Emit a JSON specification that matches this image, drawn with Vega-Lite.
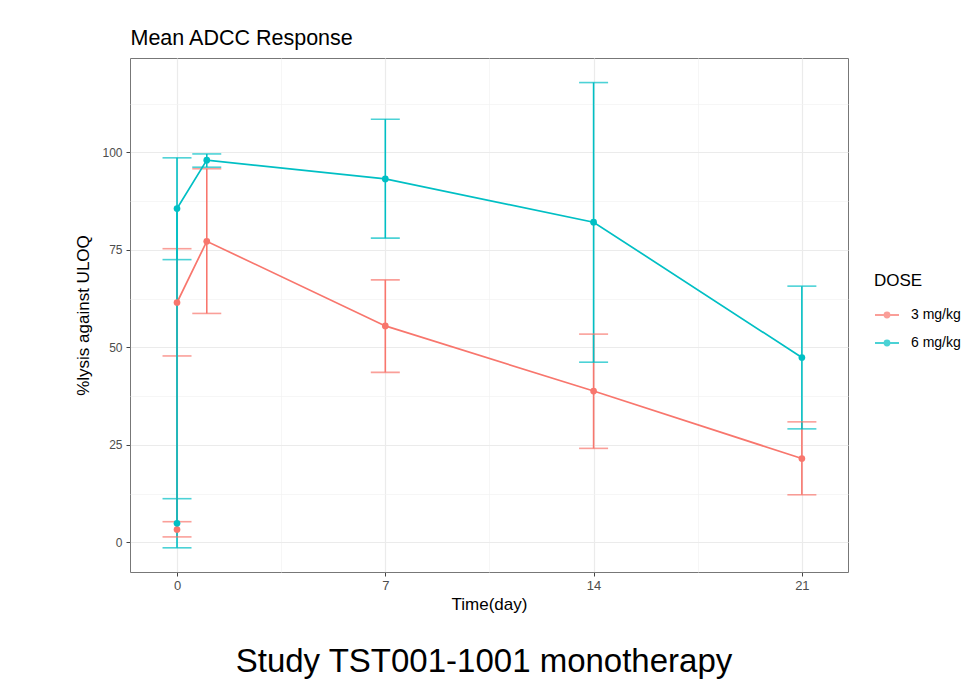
{
  "$schema": "https://vega.github.io/schema/vega-lite/v6.json",
  "autosize": {"type": "none"},
  "width": 718,
  "height": 514,
  "padding": {"left": 130, "top": 58, "right": 120, "bottom": 110},
  "background": "white",
  "config": {
    "font": "Liberation Sans",
    "view": {"stroke": "#777777", "strokeWidth": 1}
  },
  "title": {
    "text": "Study TST001-1001 monotherapy",
    "orient": "bottom",
    "anchor": "middle",
    "font": "Liberation Sans",
    "fontSize": 33,
    "fontWeight": "normal",
    "color": "#000000",
    "offset": 34,
    "dx": -5
  },
  "datasets": {
    "adcc": [
      {"dose": "3 mg/kg", "time": 0, "seq": 0, "mean": 3.3, "lo": 1.4, "hi": 5.3},
      {"dose": "3 mg/kg", "time": 0, "seq": 1, "mean": 61.5, "lo": 47.8, "hi": 75.3},
      {"dose": "3 mg/kg", "time": 1, "seq": 2, "mean": 77.2, "lo": 58.7, "hi": 95.8},
      {"dose": "3 mg/kg", "time": 7, "seq": 3, "mean": 55.5, "lo": 43.6, "hi": 67.3},
      {"dose": "3 mg/kg", "time": 14, "seq": 4, "mean": 38.8, "lo": 24.1, "hi": 53.4},
      {"dose": "3 mg/kg", "time": 21, "seq": 5, "mean": 21.5, "lo": 12.2, "hi": 30.9},
      {"dose": "6 mg/kg", "time": 0, "seq": 0, "mean": 4.9, "lo": -1.4, "hi": 11.2},
      {"dose": "6 mg/kg", "time": 0, "seq": 1, "mean": 85.6, "lo": 72.5, "hi": 98.6},
      {"dose": "6 mg/kg", "time": 1, "seq": 2, "mean": 98.0, "lo": 96.2, "hi": 99.6},
      {"dose": "6 mg/kg", "time": 7, "seq": 3, "mean": 93.2, "lo": 78.0, "hi": 108.5},
      {"dose": "6 mg/kg", "time": 14, "seq": 4, "mean": 82.1, "lo": 46.2, "hi": 117.9},
      {"dose": "6 mg/kg", "time": 21, "seq": 5, "mean": 47.4, "lo": 29.1, "hi": 65.7}
    ]
  },
  "data": {"name": "adcc"},
  "resolve": {"axis": {"x": "independent"}},
  "layer": [
    {
      "encoding": {
        "x": {
          "field": "time",
          "type": "quantitative",
          "scale": {"domain": [-1.58, 22.55], "nice": false, "zero": false},
          "axis": {
            "title": "Time(day)",
            "values": [0, 3.5, 7, 10.5, 14, 17.5, 21],
            "labelExpr": "datum.value % 7 === 0 ? datum.label : ''",
            "grid": true,
            "gridColor": {"condition": {"test": "datum.value % 7 === 0", "value": "#ebebeb"}, "value": "#f2f2f2"},
            "gridWidth": {"condition": {"test": "datum.value % 7 === 0", "value": 1.2}, "value": 0.7},
            "tickOpacity": {"condition": {"test": "datum.value % 7 === 0", "value": 1}, "value": 0},
            "tickColor": "#444444",
            "tickSize": 4,
            "domain": false,
            "labelFontSize": 13,
            "labelColor": "#4d4d4d",
            "labelPadding": 3,
            "titleFontSize": 17,
            "titleFontWeight": "normal",
            "titleColor": "#000000",
            "titlePadding": 4
          }
        },
        "y": {
          "type": "quantitative",
          "scale": {"domain": [-7.6, 124.2], "nice": false, "zero": false},
          "axis": {
            "title": "%lysis against ULOQ",
            "values": [0, 12.5, 25, 37.5, 50, 62.5, 75, 87.5, 100, 112.5],
            "labelExpr": "datum.value % 25 === 0 ? datum.label : ''",
            "grid": true,
            "gridColor": {"condition": {"test": "datum.value % 25 === 0", "value": "#ebebeb"}, "value": "#f2f2f2"},
            "gridWidth": {"condition": {"test": "datum.value % 25 === 0", "value": 1.2}, "value": 0.7},
            "tickOpacity": {"condition": {"test": "datum.value % 25 === 0", "value": 1}, "value": 0},
            "tickColor": "#444444",
            "tickSize": 4,
            "domain": false,
            "labelFontSize": 12,
            "labelColor": "#4d4d4d",
            "labelPadding": 4,
            "titleFontSize": 17,
            "titleFontWeight": "normal",
            "titleColor": "#000000",
            "titlePadding": 9
          }
        },
        "color": {
          "field": "dose",
          "type": "nominal",
          "scale": {"domain": ["3 mg/kg", "6 mg/kg"], "range": ["#F8766D", "#00BFC4"]},
          "legend": {
            "title": "DOSE",
            "orient": "none",
            "legendX": 744,
            "legendY": 215,
            "titleFontSize": 17,
            "titleFontWeight": "normal",
            "titleColor": "#000000",
            "titlePadding": 12,
            "labelFontSize": 14,
            "labelColor": "#000000",
            "labelOffset": 11,
            "symbolType": "M-1,0L1,0M-0.2,0A0.2,0.2 0 1,1 0.2,0A0.2,0.2 0 1,1 -0.2,0M-0.1,0A0.1,0.1 0 1,1 0.1,0A0.1,0.1 0 1,1 -0.1,0",
            "symbolStrokeWidth": 2,
            "symbolSize": 576,
            "rowPadding": 8
          }
        }
      },
      "layer": [
        {
          "mark": {"type": "rule", "strokeWidth": 1.6},
          "encoding": {
            "y": {"field": "lo", "type": "quantitative"},
            "y2": {"field": "hi"}
          }
        },
        {
          "mark": {"type": "tick", "orient": "horizontal", "size": 29, "thickness": 1.6},
          "encoding": {
            "y": {"field": "lo", "type": "quantitative"}
          }
        },
        {
          "mark": {"type": "tick", "orient": "horizontal", "size": 29, "thickness": 1.6},
          "encoding": {
            "y": {"field": "hi", "type": "quantitative"}
          }
        },
        {
          "mark": {"type": "line", "strokeWidth": 1.7},
          "encoding": {
            "y": {"field": "mean", "type": "quantitative"},
            "order": {"field": "seq", "type": "quantitative"}
          }
        },
        {
          "mark": {"type": "point", "filled": true, "size": 45, "opacity": 1},
          "encoding": {
            "y": {"field": "mean", "type": "quantitative"}
          }
        }
      ]
    },
    {
      "mark": {"type": "point", "opacity": 0},
      "encoding": {
        "x": {
          "field": "time",
          "type": "quantitative",
          "axis": {
            "orient": "top",
            "title": "Mean ADCC Response",
            "titleAnchor": "start",
            "titleAlign": "left",
            "titleFontSize": 21.5,
            "titleFontWeight": "normal",
            "titleColor": "#000000",
            "titlePadding": 9,
            "labels": false,
            "ticks": false,
            "domain": false,
            "grid": false
          }
        }
      }
    }
  ]
}
